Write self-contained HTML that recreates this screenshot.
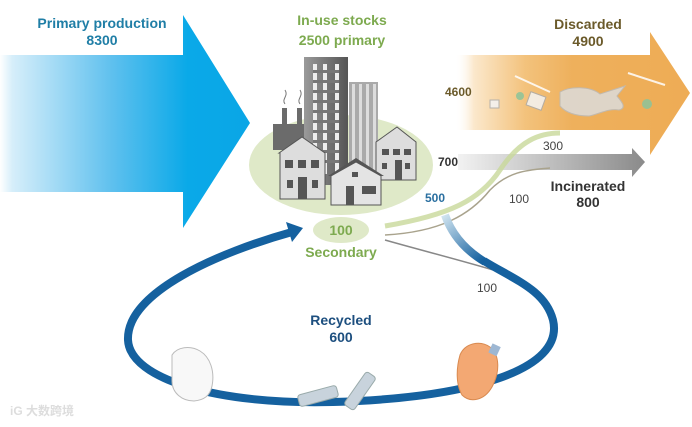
<!DOCTYPE html>
<html><head><meta charset="utf-8"><style>
body{margin:0;background:#fff;}
svg{display:block;font-family:"Liberation Sans",Arial,sans-serif;font-weight:bold;}
</style></head><body>
<svg width="692" height="427" viewBox="0 0 692 427" xmlns="http://www.w3.org/2000/svg">
<defs>
<linearGradient id="blue" x1="0" x2="1" y1="0" y2="0">
<stop offset="0" stop-color="#ffffff"/><stop offset="0.05" stop-color="#d6eefa"/><stop offset="0.45" stop-color="#5ec0ee"/><stop offset="0.75" stop-color="#0aa9e8"/><stop offset="1" stop-color="#0aa6e6"/></linearGradient>
<linearGradient id="orange" x1="0" x2="1"><stop offset="0" stop-color="#fff" stop-opacity="0"/><stop offset="0.08" stop-color="#fbe8cc"/><stop offset="0.3" stop-color="#f3c27c"/><stop offset="0.5" stop-color="#eeb05c"/><stop offset="1" stop-color="#eeac55"/></linearGradient>
<linearGradient id="gray" x1="0" x2="1"><stop offset="0" stop-color="#f2f2f2"/><stop offset="1" stop-color="#8a8a8a"/></linearGradient>
<linearGradient id="bld" x1="0" x2="1"><stop offset="0" stop-color="#9a9a9a"/><stop offset="0.5" stop-color="#777"/><stop offset="1" stop-color="#555"/></linearGradient>
<linearGradient id="rec" gradientUnits="userSpaceOnUse" x1="445" y1="215" x2="480" y2="262"><stop offset="0" stop-color="#cfe3ef"/><stop offset="1" stop-color="#15619f"/></linearGradient>
</defs>
<polygon points="0,55 183,55 183,15 250,123 183,228 183,192 0,192" fill="url(#blue)"/>
<polygon points="455,55 650,55 650,32 690,93 650,155 650,130 455,130" fill="url(#orange)"/>
<g opacity="0.85">
<path d="M560,92 c10,-6 30,-6 40,2 l25,-8 -8,10 c5,6 10,12 2,14 c-10,-2 -20,4 -30,6 c-10,0 -22,-2 -29,-10z" fill="#dcdcdc" stroke="#bbb"/>
<rect x="528" y="94" width="16" height="14" fill="#f4f4f4" stroke="#aaa" transform="rotate(20 536 101)"/>
<rect x="490" y="100" width="9" height="8" fill="#f4f4f4" stroke="#aaa"/>
<circle cx="520" cy="96" r="4" fill="#8cc49a"/><circle cx="647" cy="104" r="5" fill="#8cc49a"/>
<line x1="515" y1="76" x2="550" y2="92" stroke="#fff" stroke-width="2"/>
<line x1="628" y1="73" x2="665" y2="85" stroke="#fff" stroke-width="2"/>
</g>
<polygon points="458,154 632,154 632,148 645,162 632,177 632,170 458,170" fill="url(#gray)"/>
<ellipse cx="341" cy="165" rx="92" ry="50" fill="#dfe9c8"/>
<ellipse cx="341" cy="230" rx="28" ry="13" fill="#dfe9c8"/>
<path d="M385,226 C450,215 480,200 500,170 C520,140 540,133 560,133" stroke="#c8d89a" stroke-width="5" fill="none" opacity="0.8"/>
<path d="M385,235 C440,232 470,215 490,190 C510,170 530,170 550,168" stroke="#a9a38d" stroke-width="1.5" fill="none"/>
<path d="M385,240 C420,250 460,260 500,272" stroke="#888" stroke-width="1.5" fill="none"/>
<path d="M445,215 C452,235 465,250 485,262" stroke="url(#rec)" stroke-width="8" fill="none"/>
<path d="M484,261 C515,280 545,290 553,320 C565,370 470,398 333,402 C220,405 130,380 128,340 C126,292 220,252 292,232" stroke="#15619f" stroke-width="8" fill="none"/>
<polygon points="303,228 286,222 292,242" fill="#15619f"/>
<polygon points="282,108 287,108 287,124 297,124 297,108 302,108 302,124 305,124 305,150 273,150 273,124 282,124" fill="#6b6b6b"/>
<path d="M285,104 c-4,-5 4,-8 0,-14 M300,104 c-4,-5 4,-8 0,-14" stroke="#777" fill="none"/>
<rect x="304" y="57" width="44" height="128" fill="url(#bld)"/>
<g fill="#eee"><rect x="313" y="64" width="4" height="110"/><rect x="323" y="64" width="4" height="110"/><rect x="335" y="64" width="4" height="110"/></g>
<g fill="#777"><rect x="313" y="70" width="26" height="3"/><rect x="313" y="80" width="26" height="3"/><rect x="313" y="90" width="26" height="3"/><rect x="313" y="100" width="26" height="3"/><rect x="313" y="110" width="26" height="3"/><rect x="313" y="120" width="26" height="3"/><rect x="313" y="130" width="26" height="3"/><rect x="313" y="140" width="26" height="3"/><rect x="313" y="150" width="26" height="3"/><rect x="313" y="160" width="26" height="3"/></g>
<rect x="349" y="82" width="29" height="100" fill="#aaa"/>
<g fill="#ddd"><rect x="352" y="84" width="3" height="95"/><rect x="359" y="84" width="3" height="95"/><rect x="366" y="84" width="3" height="95"/><rect x="373" y="84" width="3" height="95"/></g>
<polygon points="376,142 397,127 416,142 416,180 376,180" fill="#ddd" stroke="#555"/>
<g fill="#555"><rect x="382" y="149" width="7" height="6"/><rect x="393" y="149" width="7" height="6"/><rect x="404" y="149" width="7" height="6"/><rect x="382" y="163" width="5" height="6"/><rect x="395" y="160" width="7" height="20"/><rect x="405" y="163" width="5" height="6"/></g>
<polygon points="279,153 302,137 325,153 325,199 280,199 280,153" fill="#ddd" stroke="#555"/>
<g fill="#555"><rect x="285" y="160" width="8" height="8"/><rect x="298" y="160" width="8" height="8"/><rect x="311" y="160" width="8" height="8"/><rect x="287" y="180" width="6" height="8"/><rect x="298" y="177" width="9" height="22"/><rect x="312" y="180" width="6" height="8"/></g>
<polygon points="328,176 356,158 384,176" fill="#555"/>
<polygon points="331,176 356,162 381,176 381,205 331,205" fill="#e4e4e4" stroke="#555"/>
<g fill="#555"><rect x="352" y="172" width="6" height="5"/><rect x="346" y="186" width="8" height="19"/><rect x="362" y="186" width="14" height="8"/></g>
<path d="M172,355 c5,-8 18,-10 28,-4 c10,6 15,20 12,35 c-2,10 -8,14 -18,15 c-12,0 -22,-8 -22,-20 z" fill="#f8f8f8" stroke="#bbb"/>
<rect x="298" y="390" width="40" height="12" rx="3" fill="#c8d3dc" stroke="#9aa" transform="rotate(-15 318 396)"/>
<rect x="340" y="385" width="40" height="12" rx="3" fill="#c8d3dc" stroke="#9aa" transform="rotate(-55 360 391)"/>
<path d="M460,355 c5,-12 20,-15 30,-8 c10,8 10,25 2,40 c-8,14 -22,16 -30,8 c-6,-10 -6,-26 -2,-40z" fill="#f3a873" stroke="#d98a50"/>
<rect x="490" y="345" width="9" height="10" fill="#9db7d3" transform="rotate(25 495 350)"/>
<g text-anchor="middle" font-size="14">
<text x="102" y="28" fill="#1f7ea6">Primary production</text>
<text x="102" y="45" fill="#1f7ea6">8300</text>
<text x="342" y="25" fill="#7daa4f">In-use stocks</text>
<text x="342" y="45" fill="#7daa4f">2500 primary</text>
<text x="588" y="29" fill="#6b5a2a">Discarded</text>
<text x="588" y="46" fill="#6b5a2a">4900</text>
<text x="588" y="191" fill="#333">Incinerated</text>
<text x="588" y="207" fill="#333">800</text>
<text x="341" y="235" fill="#7daa4f">100</text>
<text x="341" y="257" fill="#7daa4f">Secondary</text>
<text x="341" y="325" fill="#1d4f7f">Recycled</text>
<text x="341" y="342" fill="#1d4f7f">600</text>
</g>
<g font-size="12">
<text x="445" y="96" fill="#6b5a2a">4600</text>
<text x="438" y="166" fill="#333">700</text>
<text x="425" y="202" fill="#2a6fa0">500</text>
</g>
<g font-size="12" font-weight="normal" fill="#444">
<text x="543" y="150">300</text>
<text x="509" y="203">100</text>
<text x="477" y="292">100</text>
</g>
<text x="10" y="415" font-size="12" fill="#ddd" font-family="'Liberation Sans','Noto Sans CJK SC',sans-serif">iG 大数跨境</text>
</svg>
</body></html>
